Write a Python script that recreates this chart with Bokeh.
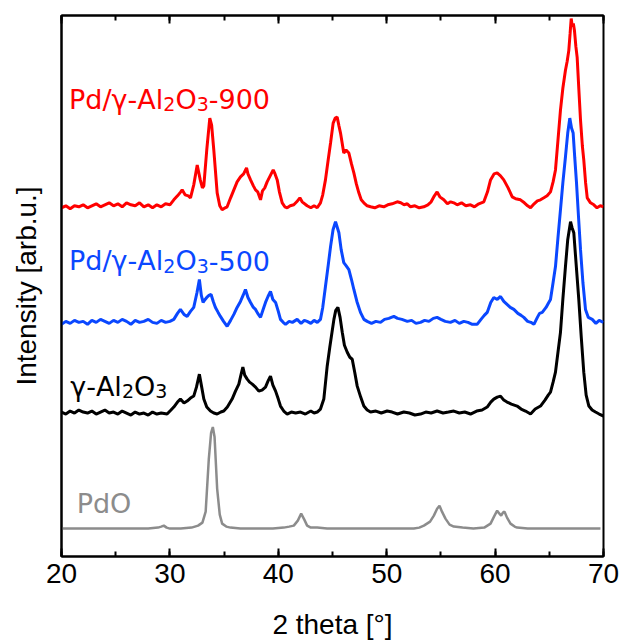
from bokeh.plotting import figure
from bokeh.models import Range1d, LinearAxis, SingleIntervalTicker, FixedTicker, Label
from bokeh.embed import file_html
from bokeh.resources import INLINE

# ---- data (2 theta in degrees, stacked intensity in arb. units) ----
red_x = [20.0, 20.4, 20.8, 21.2, 21.6, 22.0, 22.4, 22.8, 23.2, 23.6, 24.0, 24.4, 24.8, 25.2, 25.6, 26.0, 26.4, 26.8, 27.2, 27.6,
         28.0, 28.4, 28.8, 29.2, 29.6, 30.0, 30.36, 30.7, 31.0, 31.13, 31.4, 31.7, 31.9, 32.2, 32.52, 32.8, 33.0, 33.13, 33.4, 33.68,
         33.85, 34.05, 34.36, 34.6, 34.82, 35.1, 35.28, 35.6, 35.9, 36.2, 36.51, 36.8, 37.07, 37.2, 37.44, 37.7, 37.9, 38.1, 38.36, 38.54,
         38.75, 38.97, 39.25, 39.53, 39.7, 39.9, 40.1, 40.36, 40.6, 40.82, 41.1, 41.43, 41.7, 41.99, 42.2, 42.66, 43.0, 43.3, 43.59, 43.89,
         44.1, 44.35, 44.6, 44.82, 45.06, 45.25, 45.43, 45.6, 45.74, 46.04, 46.25, 46.51, 46.75, 46.97, 47.2, 47.43, 47.65, 47.89, 48.2, 48.51,
         48.9, 49.3, 49.73, 50.1, 50.5, 50.97, 51.3, 51.6, 51.9, 52.2, 52.6, 53.0, 53.42, 53.8, 54.1, 54.4, 54.65, 54.9, 55.27, 55.6,
         55.9, 56.19, 56.5, 56.9, 57.3, 57.73, 58.1, 58.5, 58.96, 59.3, 59.58, 59.9, 60.19, 60.5, 60.8, 61.2, 61.58, 61.9, 62.34, 62.7,
         63.0, 63.27, 63.6, 63.9, 64.19, 64.5, 64.8, 65.11, 65.35, 65.57, 65.8, 66.03, 66.25, 66.49, 66.65, 66.8, 66.92, 67.02, 67.12, 67.22,
         67.32, 67.45, 67.57, 67.72, 67.88, 68.05, 68.18, 68.35, 68.5, 68.8, 69.11, 69.4, 69.7, 70.0]
red_y = [350, 352, 349, 352, 351, 353, 350, 352, 354, 351, 353, 355, 352, 354, 351, 355, 353, 352, 355, 351,
         353, 350, 353, 351, 354, 353, 358, 362, 366, 368, 363, 362, 360, 373, 393, 378, 370, 372, 408, 440,
         433, 408, 365, 352, 348, 350, 351, 360, 368, 376, 381, 384, 390, 384, 378, 372, 368, 366, 358, 367,
         370, 376, 382, 388, 384, 378, 366, 355, 351, 350, 352, 353, 356, 360, 356, 352, 350, 352, 350, 355,
         363, 378, 398, 415, 435, 440, 441, 432, 425, 405, 408, 405, 394, 385, 374, 365, 358, 355, 352, 351,
         350, 352, 351, 353, 354, 356, 355, 353, 354, 351, 352, 350, 351, 353, 356, 362, 366, 361, 358, 354,
         356, 355, 353, 355, 352, 353, 351, 354, 356, 366, 378, 384, 385, 382, 378, 370, 361, 359, 358, 355,
         352, 350, 354, 357, 358, 360, 362, 366, 376, 388, 418, 448, 470, 488, 497, 508, 525, 540, 532, 535,
         528, 512, 501, 470, 438, 412, 398, 375, 360, 355, 353, 350, 352, 351]

blue_x = [20.0, 20.4, 20.8, 21.2, 21.6, 22.0, 22.4, 22.8, 23.2, 23.6, 24.0, 24.4, 24.8, 25.2, 25.6, 26.0, 26.4, 26.8, 27.2, 27.6,
          28.0, 28.4, 28.8, 29.2, 29.6, 30.0, 30.36, 30.7, 30.97, 31.3, 31.59, 31.9, 32.2, 32.5, 32.72, 32.9, 33.06, 33.25, 33.4, 33.6,
          33.8, 34.0, 34.2, 34.45, 34.66, 34.95, 35.28, 35.6, 35.9, 36.2, 36.51, 36.75, 36.97, 37.2, 37.44, 37.7, 37.9, 38.1, 38.36, 38.6,
          38.82, 39.05, 39.28, 39.5, 39.75, 40.0, 40.2, 40.45, 40.67, 41.0, 41.3, 41.74, 42.1, 42.4, 42.66, 43.0, 43.3, 43.6, 43.89, 44.1,
          44.35, 44.6, 44.82, 45.05, 45.28, 45.45, 45.59, 45.8, 46.04, 46.25, 46.51, 46.75, 46.97, 47.25, 47.58, 47.9, 48.2, 48.6, 49.0, 49.43,
          49.8, 50.2, 50.66, 51.0, 51.4, 51.9, 52.3, 52.7, 53.12, 53.5, 53.9, 54.3, 54.65, 55.0, 55.4, 55.88, 56.3, 56.7, 57.11, 57.5,
          57.9, 58.34, 58.7, 59.0, 59.27, 59.6, 59.88, 60.2, 60.5, 60.8, 61.1, 61.4, 61.73, 62.1, 62.4, 62.65, 63.0, 63.3, 63.58, 63.9,
          64.1, 64.35, 64.7, 64.9, 65.11, 65.35, 65.57, 65.8, 66.03, 66.25, 66.49, 66.7, 66.89, 67.05, 67.2, 67.35, 67.51, 67.7, 67.88, 68.1,
          68.34, 68.6, 68.96, 69.3, 69.6, 70.0]
blue_y = [233, 236, 234, 237, 235, 236, 233, 237, 235, 238, 236, 234, 237, 235, 238, 236, 233, 237, 235, 236,
          238, 235, 234, 237, 235, 236, 238, 244, 248, 243, 241, 246, 250, 265, 278, 262, 255, 258, 260, 262,
          263, 256, 250, 245, 241, 236, 231, 237, 243, 250, 256, 262, 268, 260, 255, 250, 248, 244, 240, 248,
          255, 261, 266, 258, 255, 246, 238, 235, 233, 236, 235, 238, 234, 237, 236, 234, 237, 235, 238, 250,
          271, 292, 311, 328, 336, 330, 325, 308, 295, 292, 288, 278, 268, 256, 245, 238, 236, 234, 236, 235,
          238, 239, 241, 239, 238, 236, 237, 234, 235, 237, 236, 239, 240, 238, 236, 235, 237, 234, 236, 235,
          233, 233, 238, 242, 245, 255, 260, 258, 261, 256, 253, 250, 248, 244, 242, 240, 236, 235, 233, 240,
          244, 245, 250, 254, 258, 275, 291, 320, 348, 375, 401, 425, 440, 430, 425, 400, 375, 340, 308, 275,
          248, 240, 238, 234, 237, 235]

black_x = [20.0, 20.4, 20.8, 21.2, 21.6, 22.0, 22.4, 22.8, 23.2, 23.6, 24.0, 24.4, 24.8, 25.2, 25.6, 26.0, 26.4, 26.8, 27.2, 27.6,
           28.0, 28.4, 28.8, 29.2, 29.74, 30.1, 30.36, 30.7, 30.97, 31.3, 31.59, 31.9, 32.2, 32.45, 32.72, 32.9, 33.13, 33.4, 33.74, 34.05,
           34.36, 34.7, 34.97, 35.3, 35.74, 36.05, 36.36, 36.55, 36.73, 36.9, 37.13, 37.35, 37.6, 37.9, 38.2, 38.5, 38.82, 39.05, 39.28, 39.5,
           39.75, 40.0, 40.2, 40.5, 40.82, 41.2, 41.6, 42.05, 42.5, 43.0, 43.3, 43.59, 43.89, 44.2, 44.51, 44.75, 45.13, 45.3, 45.5, 45.7,
           45.9, 46.1, 46.36, 46.6, 46.82, 47.05, 47.28, 47.6, 47.89, 48.2, 48.51, 49.0, 49.5, 50.04, 50.5, 51.0, 51.58, 52.1, 52.6, 53.12,
           53.6, 54.1, 54.65, 55.2, 55.7, 56.19, 56.7, 57.2, 57.73, 58.3, 58.8, 59.27, 59.6, 59.88, 60.2, 60.5, 60.8, 61.1, 61.5, 62.03,
           62.4, 62.8, 63.27, 63.7, 64.19, 64.6, 64.9, 65.11, 65.35, 65.57, 65.8, 66.03, 66.25, 66.49, 66.7, 66.96, 67.1, 67.26, 67.5, 67.72,
           67.95, 68.18, 68.4, 68.65, 68.95, 69.26, 69.6, 70.0]
black_y = [145, 143, 146, 144, 147, 145, 144, 146, 143, 145, 147, 144, 145, 143, 146, 144, 142, 145, 143, 144,
           142, 145, 143, 144, 143, 147, 150, 155, 158, 154, 156, 159, 161, 170, 183, 172, 158, 150, 146, 144,
           143, 145, 146, 150, 158, 166, 173, 182, 190, 182, 178, 175, 173, 170, 166, 167, 170, 176, 181, 172,
           166, 158, 151, 146, 143, 145, 144, 145, 143, 146, 144, 145, 148, 158, 191, 210, 238, 247, 250, 240,
           225, 212, 205, 200, 198, 185, 171, 160, 151, 147, 145, 146, 144, 146, 145, 143, 145, 144, 142, 143,
           145, 144, 146, 144, 145, 146, 144, 145, 143, 146, 147, 150, 155, 158, 160, 161, 157, 155, 153, 151,
           148, 146, 143, 148, 151, 157, 162, 165, 175, 185, 205, 225, 258, 291, 318, 336, 330, 325, 290, 258,
           220, 185, 162, 151, 147, 145, 143, 141]

gray_x = [20.0, 21.0, 22.0, 23.0, 24.0, 25.0, 26.0, 27.0, 28.0, 28.9, 29.2, 29.44, 29.7, 30.0, 31.0, 32.0, 32.6, 33.0, 33.3, 33.59,
          33.8, 33.96, 34.12, 34.36, 34.6, 34.82, 35.2, 35.59, 36.5, 37.5, 38.5, 39.5, 40.5, 41.0, 41.43, 41.8, 42.11, 42.4, 42.66, 43.0,
          43.59, 44.5, 45.5, 46.5, 47.5, 48.5, 49.5, 50.5, 51.5, 52.5, 53.0, 53.43, 54.0, 54.35, 54.65, 54.87, 55.1, 55.42, 55.8, 56.19,
          57.0, 58.0, 59.0, 59.58, 59.9, 60.19, 60.4, 60.56, 60.72, 60.87, 61.1, 61.42, 61.8, 62.03, 63.0, 64.0, 65.0, 66.0, 67.0, 68.0,
          69.0, 69.72]
gray_y = [28, 28, 28, 28, 28, 28, 28, 28, 28, 29, 30, 31, 29, 28, 28, 29, 31, 34, 45, 98,
          124, 130, 120, 68, 42, 33, 30, 29, 28, 28, 28, 28, 29, 30, 31, 36, 43, 37, 31, 29,
          29, 28, 28, 28, 28, 28, 28, 28, 28, 28, 29, 31, 35, 41, 48, 51, 45, 38, 32, 30,
          29, 28, 29, 33, 40, 46, 43, 41, 44, 45, 39, 33, 30, 29, 28, 28, 28, 28, 28, 28,
          28, 28]

# "_" marks the following character as a subscript
series_labels = ["Pd/γ-Al_2O_3-900", "Pd/γ-Al_2O_3-500", "γ-Al_2O_3", "PdO"]
x_ticks_major = 10
x_title = "2 theta [°]"
y_title = "Intensity [arb.u.]"

RED, BLUE, BLACK, GRAY = "#ff0000", "#0a47ff", "#000000", "#8c8c8c"

p = figure(width=619, height=642, x_range=Range1d(20, 70), y_range=Range1d(0, 543),
           output_backend="svg", toolbar_location=None,
           min_border_left=61, min_border_right=16, min_border_top=15, min_border_bottom=84)
p.xgrid.visible = False
p.ygrid.visible = False
p.outline_line_color = "black"
p.outline_line_width = 2
p.outline_line_alpha = 1.0

p.line(red_x, red_y, color=RED, line_width=3)
p.line(blue_x, blue_y, color=BLUE, line_width=3)
p.line(black_x, black_y, color=BLACK, line_width=3)
p.line(gray_x, gray_y, color=GRAY, line_width=2.5)

tick_font = "Liberation Sans"
xa = p.xaxis[0]
xa.ticker = SingleIntervalTicker(interval=x_ticks_major, num_minor_ticks=2)
xa.major_tick_in = 8
xa.major_tick_out = 0
xa.minor_tick_in = 5
xa.minor_tick_out = 0
xa.major_tick_line_width = 2
xa.minor_tick_line_width = 2
xa.axis_line_width = 2
xa.axis_line_color = "black"
xa.major_tick_line_color = "black"
xa.minor_tick_line_color = "black"
xa.major_label_text_font = tick_font
xa.major_label_text_font_size = "28px"
xa.major_label_text_color = "black"
xa.major_label_standoff = 7
xa.axis_label = x_title
xa.axis_label_text_font = tick_font
xa.axis_label_text_font_size = "28px"
xa.axis_label_text_font_style = "normal"
xa.axis_label_text_color = "black"
xa.axis_label_standoff = 23

ya = p.yaxis[0]
ya.ticker = FixedTicker(ticks=[])
ya.axis_line_width = 2
ya.axis_line_color = "black"
ya.major_tick_line_color = None
ya.minor_tick_line_color = None
ya.axis_label = y_title
ya.axis_label_text_font = tick_font
ya.axis_label_text_font_size = "28px"
ya.axis_label_text_font_style = "normal"
ya.axis_label_text_color = "black"
ya.axis_label_standoff = 20

top = LinearAxis(ticker=SingleIntervalTicker(interval=x_ticks_major, num_minor_ticks=2),
                 major_tick_in=8, major_tick_out=0, minor_tick_in=5, minor_tick_out=0,
                 major_tick_line_width=2, minor_tick_line_width=2, axis_line_width=2,
                 axis_line_color="black", major_tick_line_color="black", minor_tick_line_color="black",
                 major_label_text_font_size="0px", major_label_text_color=None,
                 major_label_standoff=0)
p.add_layout(top, "above")

# rich label made of normal and subscript pieces (DejaVu Sans advance widths in em)
LAB_FONT = "DejaVu Sans"
MAIN_PX, SUB_PX, SUB_DROP = 27, 19, 5
ADV = {"P": 0.603, "d": 0.635, "/": 0.337, "γ": 0.592, "-": 0.361, "A": 0.684, "l": 0.278,
       "O": 0.787, "0": 0.636, "1": 0.636, "2": 0.636, "3": 0.636, "5": 0.636, "9": 0.636}


def add_rich_label(fig, x, y, markup, color):
    pieces = []
    i = 0
    while i < len(markup):
        if markup[i] == "_":
            pieces.append((markup[i + 1], True))
            i += 2
        else:
            if pieces and not pieces[-1][1]:
                pieces[-1] = (pieces[-1][0] + markup[i], False)
            else:
                pieces.append((markup[i], False))
            i += 1
    off = 0.0
    for txt, sub in pieces:
        size = SUB_PX if sub else MAIN_PX
        fig.add_layout(Label(x=x, y=y, x_offset=off, y_offset=-SUB_DROP if sub else 0,
                             text=txt, text_color=color, text_font=LAB_FONT,
                             text_font_size=f"{size}px", text_baseline="alphabetic"))
        off += sum(ADV.get(c, 0.6) for c in txt) * size


add_rich_label(p, 20.7, 459, series_labels[0], RED)
add_rich_label(p, 20.7, 297, series_labels[1], BLUE)
add_rich_label(p, 20.8, 171, series_labels[2], BLACK)
add_rich_label(p, 21.4, 53, series_labels[3], GRAY)

open("out.html", "w").write(file_html(p, INLINE))
